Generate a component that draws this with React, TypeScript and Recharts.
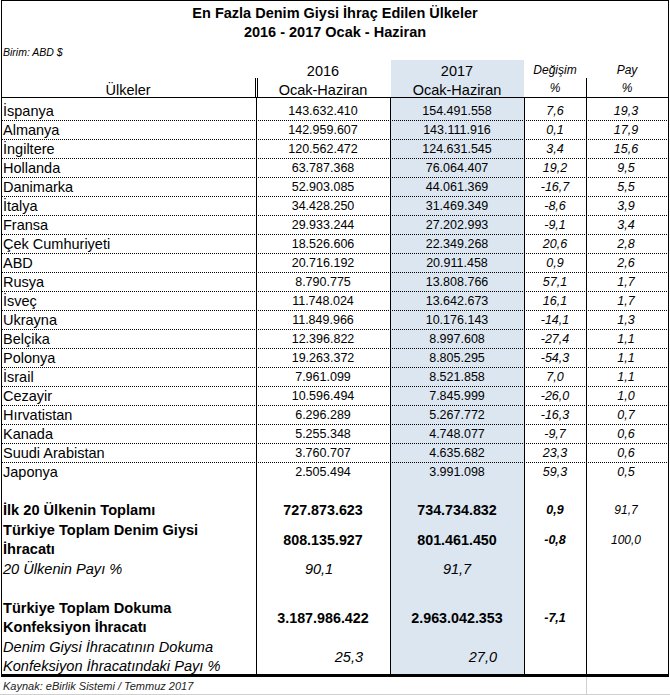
import React from 'react';
import { BarChart, Bar, XAxis, YAxis } from 'recharts';

// ---------------------------------------------------------------------------
// DATA
// ---------------------------------------------------------------------------

const countries = [
  'İspanya', 'Almanya', 'İngiltere', 'Hollanda', 'Danimarka', 'İtalya', 'Fransa',
  'Çek Cumhuriyeti', 'ABD', 'Rusya', 'İsveç', 'Ukrayna', 'Belçika', 'Polonya',
  'İsrail', 'Cezayir', 'Hırvatistan', 'Kanada', 'Suudi Arabistan', 'Japonya'
];

const exports2016 = [
  143632410, 142959607, 120562472, 63787368, 52903085, 34428250, 29933244,
  18526606, 20716192, 8790775, 11748024, 11849966, 12396822, 19263372,
  7961099, 10596494, 6296289, 5255348, 3760707, 2505494
];

const exports2017 = [
  154491558, 143111916, 124631545, 76064407, 44061369, 31469349, 27202993,
  22349268, 20911458, 13808766, 13642673, 10176143, 8997608, 8805295,
  8521858, 7845999, 5267772, 4748077, 4635682, 3991098
];

const changePct = [
  7.6, 0.1, 3.4, 19.2, -16.7, -8.6, -9.1, 20.6, 0.9, 57.1,
  16.1, -14.1, -27.4, -54.3, 7.0, -26.0, -16.3, -9.7, 23.3, 59.3
];

const sharePct = [
  19.3, 17.9, 15.6, 9.5, 5.5, 3.9, 3.4, 2.8, 2.6, 1.7,
  1.7, 1.3, 1.1, 1.1, 1.1, 1.0, 0.7, 0.6, 0.6, 0.5
];

const totalLabels = [
  ['İlk 20 Ülkenin Toplamı'],
  ['Türkiye Toplam Denim Giysi', 'İhracatı'],
  ['20 Ülkenin Payı %'],
  ['Türkiye Toplam Dokuma', 'Konfeksiyon İhracatı'],
  ['Denim Giysi İhracatının Dokuma', 'Konfeksiyon İhracatındaki Payı %']
];
const totals2016 = [727873623, 808135927, 90.1, 3187986422, 25.3];
const totals2017 = [734734832, 801461450, 91.7, 2963042353, 27.0];
const totalsChange: (number | null)[] = [0.9, -0.8, null, -7.1, null];
const totalsShare: (number | null)[] = [91.7, 100.0, null, null, null];

// ---------------------------------------------------------------------------
// LAYOUT
// ---------------------------------------------------------------------------

const FONT = '"Liberation Sans", Arial, sans-serif';
const SHADE = '#dce6f1';

const COL_2016 = 323;
const COL_2017 = 457;
const COL_CHG = 555;
const COL_SHARE = 626;

const BODY_TOP = 101;
const BODY_ROW = 19;
const SUM_TOP = BODY_TOP + BODY_ROW * countries.length;
const SUM_ROW = 19.5;

const RATIO_ROWS = [2, 4];
const GAP_BEFORE = [0, 3];

const fmtInt = (n: number) => String(Math.round(n)).replace(/\B(?=(\d{3})+(?!\d))/g, '.');
const fmtPct = (n: number) => n.toFixed(1).replace('.', ',');

const bodyRows = countries.map((name, i) => ({
  name,
  y2016: exports2016[i],
  y2017: exports2017[i]
}));

type SumLine = { key: string; row: number; part: number; y2016?: number };
const summaryLines: SumLine[] = [];
totalLabels.forEach((lines, row) => {
  if (GAP_BEFORE.includes(row)) summaryLines.push({ key: `gap${row}`, row: -1, part: 0 });
  lines.forEach((_, part) => {
    summaryLines.push({
      key: `r${row}p${part}`,
      row,
      part,
      y2016: part === 0 ? totals2016[row] : undefined
    });
  });
});

// ---------------------------------------------------------------------------
// ROW RENDERERS (drawn at the y of each category band)
// ---------------------------------------------------------------------------

function CountryRow(props: any) {
  const { y, payload } = props;
  const i = countries.indexOf(payload.value);
  if (i < 0) return <g />;
  const sep = y + BODY_ROW / 2 + 0.5;
  const base = { fontFamily: FONT, dominantBaseline: 'central' as const, fill: '#000' };
  return (
    <g>
      <text {...base} x={3} y={y} fontSize={14.5}>{countries[i]}</text>
      <text {...base} x={COL_2016} y={y} fontSize={12.5} textAnchor="middle">
        {fmtInt(exports2016[i])}
      </text>
      <text {...base} x={COL_2017} y={y} fontSize={12.5} textAnchor="middle">
        {fmtInt(exports2017[i])}
      </text>
      <text {...base} x={COL_CHG} y={y} fontSize={12.5} fontStyle="italic" textAnchor="middle">
        {fmtPct(changePct[i])}
      </text>
      <text {...base} x={COL_SHARE} y={y} fontSize={12.5} fontStyle="italic" textAnchor="middle">
        {fmtPct(sharePct[i])}
      </text>
      <line x1={2} x2={668} y1={sep} y2={sep} stroke="#000" strokeWidth={1} strokeDasharray="1 1" />
    </g>
  );
}

function SummaryRow(props: any) {
  const { y, payload } = props;
  const line = summaryLines.find((l) => l.key === payload.value);
  if (!line || line.row < 0) return <g />;
  const r = line.row;
  const ratio = RATIO_ROWS.includes(r);
  const base = { fontFamily: FONT, dominantBaseline: 'central' as const, fill: '#000' };
  const label = (
    <text
      {...base}
      x={3}
      y={y}
      fontSize={14.6}
      fontWeight={ratio ? 'normal' : 'bold'}
      fontStyle={ratio ? 'italic' : 'normal'}
    >
      {totalLabels[r][line.part]}
    </text>
  );
  if (line.part !== 0) return <g>{label}</g>;

  const vy = y + ((totalLabels[r].length - 1) * SUM_ROW) / 2;
  const chg = totalsChange[r];
  const shr = totalsShare[r];
  const lastRow = r === totalLabels.length - 1;

  return (
    <g>
      {label}
      {ratio ? (
        <>
          <text {...base} x={lastRow ? 363 : COL_2016 - 4} y={vy} fontSize={14.5} fontStyle="italic"
            textAnchor={lastRow ? 'end' : 'middle'}>
            {fmtPct(totals2016[r])}
          </text>
          <text {...base} x={lastRow ? 497 : COL_2017} y={vy} fontSize={14.5} fontStyle="italic"
            textAnchor={lastRow ? 'end' : 'middle'}>
            {fmtPct(totals2017[r])}
          </text>
        </>
      ) : (
        <>
          <text {...base} x={COL_2016} y={vy} fontSize={14.3} fontWeight="bold" textAnchor="middle">
            {fmtInt(totals2016[r])}
          </text>
          <text {...base} x={COL_2017} y={vy} fontSize={14.3} fontWeight="bold" textAnchor="middle">
            {fmtInt(totals2017[r])}
          </text>
        </>
      )}
      {chg !== null && (
        <text {...base} x={COL_CHG} y={vy} fontSize={12.5} fontWeight="bold" fontStyle="italic" textAnchor="middle">
          {fmtPct(chg)}
        </text>
      )}
      {shr !== null && (
        <text {...base} x={COL_SHARE} y={vy} fontSize={12} fontStyle="italic" textAnchor="middle">
          {fmtPct(shr)}
        </text>
      )}
    </g>
  );
}

// ---------------------------------------------------------------------------
// FRAME (title, header, grid lines)
// ---------------------------------------------------------------------------

function Frame() {
  const t = { fontFamily: FONT, dominantBaseline: 'central' as const, fill: '#000' };
  const bodyBottom = 675;
  return (
    <svg width={670} height={695} style={{ position: 'absolute', left: 0, top: 0 }}>
      <rect x={0} y={0} width={670} height={695} fill="#fff" />
      <rect x={391} y={60} width={133} height={bodyBottom - 60} fill={SHADE} />

      {/* gridlines of the sheet below the table */}
      <line x1={0} x2={670} y1={694.5} y2={694.5} stroke="#d0d0d0" />
      <line x1={586.5} x2={586.5} y1={677} y2={695} stroke="#d0d0d0" />

      {/* outer frame */}
      <line x1={1} x2={669} y1={0.5} y2={0.5} stroke="#000" />
      <line x1={1.5} x2={1.5} y1={0} y2={677} stroke="#000" />
      <line x1={668.5} x2={668.5} y1={0} y2={677} stroke="#000" />
      <rect x={1} y={674} width={668} height={3} fill="#000" />

      {/* header separators */}
      <line x1={255.5} x2={255.5} y1={78} y2={97} stroke="#000" />
      <line x1={257.5} x2={257.5} y1={78} y2={97} stroke="#000" />
      <line x1={586.5} x2={586.5} y1={78} y2={97} stroke="#000" />
      <line x1={1} x2={669} y1={97.5} y2={97.5} stroke="#000" />

      {/* body column lines */}
      {[256.5, 390.5, 524.5, 586.5].map((x) => (
        <line key={x} x1={x} x2={x} y1={97} y2={bodyBottom} stroke="#000" />
      ))}

      {/* titles */}
      <text {...t} x={335} y={13} fontSize={14.5} fontWeight="bold" textAnchor="middle">
        En Fazla Denim Giysi İhraç Edilen Ülkeler
      </text>
      <text {...t} x={335} y={32} fontSize={14.5} fontWeight="bold" textAnchor="middle">
        2016 - 2017 Ocak - Haziran
      </text>
      <text {...t} x={3} y={52} fontSize={10.5} fontStyle="italic">Birim: ABD $</text>

      {/* header */}
      <text {...t} x={128} y={90} fontSize={14.5} textAnchor="middle">Ülkeler</text>
      <text {...t} x={COL_2016} y={71} fontSize={14.5} textAnchor="middle">2016</text>
      <text {...t} x={COL_2016} y={90} fontSize={14.5} textAnchor="middle">Ocak-Haziran</text>
      <text {...t} x={COL_2017} y={71} fontSize={14.5} textAnchor="middle">2017</text>
      <text {...t} x={COL_2017} y={90} fontSize={14.5} textAnchor="middle">Ocak-Haziran</text>
      <text {...t} x={COL_CHG} y={70} fontSize={12} fontStyle="italic" textAnchor="middle">Değişim</text>
      <text {...t} x={COL_CHG} y={88} fontSize={12} fontStyle="italic" textAnchor="middle">%</text>
      <text {...t} x={627} y={70} fontSize={12} fontStyle="italic" textAnchor="middle">Pay</text>
      <text {...t} x={627} y={88} fontSize={12} fontStyle="italic" textAnchor="middle">%</text>

      {/* source */}
      <text {...t} x={3} y={686} fontSize={11} fontStyle="italic" fill="#222">
        Kaynak: eBirlik Sistemi / Temmuz 2017
      </text>
    </svg>
  );
}

// ---------------------------------------------------------------------------
// APP
// ---------------------------------------------------------------------------

export default function App() {
  const bodyHeight = BODY_ROW * countries.length;
  const sumHeight = SUM_ROW * summaryLines.length;
  return (
    <div style={{ position: 'absolute', left: 0, top: 0, width: 670, height: 695, background: '#fff' }}>
      <Frame />

      <div style={{ position: 'absolute', left: 0, top: BODY_TOP }}>
        <BarChart
          width={670}
          height={bodyHeight}
          data={bodyRows}
          layout="vertical"
          margin={{ top: 0, right: 0, bottom: 0, left: 0 }}
        >
          <XAxis type="number" hide />
          <YAxis
            type="category"
            dataKey="name"
            width={1}
            interval={0}
            axisLine={false}
            tickLine={false}
            tick={(p: any) => <CountryRow {...p} />}
          />
          <Bar dataKey="y2017" fill="none" isAnimationActive={false} />
        </BarChart>
      </div>

      <div style={{ position: 'absolute', left: 0, top: SUM_TOP }}>
        <BarChart
          width={670}
          height={sumHeight}
          data={summaryLines}
          layout="vertical"
          margin={{ top: 0, right: 0, bottom: 0, left: 0 }}
        >
          <XAxis type="number" hide />
          <YAxis
            type="category"
            dataKey="key"
            width={1}
            interval={0}
            axisLine={false}
            tickLine={false}
            tick={(p: any) => <SummaryRow {...p} />}
          />
          <Bar dataKey="y2016" fill="none" isAnimationActive={false} />
        </BarChart>
      </div>
    </div>
  );
}
